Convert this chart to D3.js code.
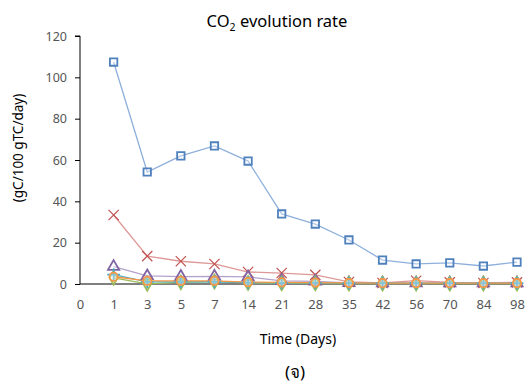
<!DOCTYPE html>
<html>
<head>
<meta charset="utf-8">
<script src="https://cdn.jsdelivr.net/npm/d3@7"></script>
<style>
  body { margin: 0; background: #fff; }
  svg text { font-family: "Noto Sans", "Open Sans", "DejaVu Sans", sans-serif; }
</style>
</head>
<body>
<svg id="chart" width="526" height="389"></svg>
<script>
const days = ["0", "1", "3", "5", "7", "14", "21", "28", "35", "42", "56", "70", "84", "98"];
const sampleDays = days.slice(1);
const yTicks = [0, 20, 40, 60, 80, 100, 120];

const blueSquare = [107.4, 54.2, 62, 66.8, 59.5, 33.9, 29, 21.3, 11.6, 9.7, 10.2, 8.7, 10.6];
const redCross = [33.4, 13.5, 11, 9.7, 5.8, 5.3, 4.4, 1, 0.5, 1.6, 0.8, 0.5, 0.8];
const purpleTriangle = [8.4, 3.9, 3.6, 3.7, 3.4, 1.5, 1.3, 0.5, 0.4, 0.4, 0.4, 0.4, 0.4];
const greenDiamond = [3, 0.1, 0.8, 1.2, 0.5, 0.3, 0.3, 0.2, 0.2, 0.2, 0.2, 0.2, 0.2];
const cyanStar = [4.5, 1, 1, 1, 0.7, 0.5, 0.5, 0.4, 0.4, 0.4, 0.4, 0.4, 0.4];
const orangeCircle = [3.5, 1.5, 1.5, 1.5, 0.9, 0.8, 0.7, 0.5, 0.4, 0.4, 0.4, 0.4, 0.4];

const series = [
  { values: blueSquare, stroke: "#4f81bd", line: "#8eb0dc", symbol: d3.symbolSquare },
  { values: redCross, stroke: "#c0504d", line: "#de9896", symbol: d3.symbolX },
  { values: purpleTriangle, stroke: "#8064a2", line: "#b4a2cc", symbol: d3.symbolTriangle },
  { values: greenDiamond, stroke: "#9bbb59", line: "#9bbb59", symbol: d3.symbolDiamond },
  { values: cyanStar, stroke: "#4bacc6", line: "#4bacc6", symbol: d3.symbolPlus },
  { values: orangeCircle, stroke: "#f79646", line: "#f79646", symbol: d3.symbolCircle }
];

const svg = d3.select("#chart");
const x = d3.scalePoint().domain(days).range([80, 517]);
const y = d3.scaleLinear().domain([0, 120]).range([284, 36]);

// title
const title = svg.append("text").attr("x", 277).attr("y", 27).attr("text-anchor", "middle")
  .attr("font-size", 16.5).attr("fill", "#000");
title.append("tspan").text("CO");
title.append("tspan").text("2").attr("font-size", 10.5).attr("dy", 4);
title.append("tspan").text(" evolution rate").attr("dy", -4);

// y axis
const yAxis = svg.append("g").attr("transform", "translate(80,0)")
  .call(d3.axisLeft(y).tickValues(yTicks).tickSize(5).tickPadding(8));
yAxis.select(".domain").attr("stroke", "#000").attr("d", "M-5,36H0V284");
yAxis.selectAll(".tick line").attr("stroke", "#000");
yAxis.selectAll(".tick text").attr("font-size", 12.5).attr("fill", "#555")
  .attr("font-family", "'Liberation Sans Narrow', 'Open Sans', sans-serif");

// x axis
const xAxis = svg.append("g").attr("transform", "translate(0,284)")
  .call(d3.axisBottom(x).tickSize(0).tickPadding(16));
xAxis.select(".domain").attr("stroke", "#000").attr("d", "M80,0H522");
xAxis.selectAll(".tick text").attr("font-size", 13).attr("fill", "#555")
  .attr("font-family", "'Liberation Sans Narrow', 'Open Sans', sans-serif");

svg.append("text").attr("x", 298).attr("y", 344).attr("text-anchor", "middle")
  .attr("font-size", 14).attr("fill", "#000").text("Time (Days)");
svg.append("text").attr("x", 295).attr("y", 378).attr("text-anchor", "middle")
  .attr("font-size", 17).attr("fill", "#000").text("(จ)");
svg.append("text").attr("transform", "translate(23,148) rotate(-90)").attr("text-anchor", "middle")
  .attr("font-size", 13.5).attr("fill", "#000").text("(gC/100 gTC/day)");

const line = d3.line().x((d, i) => x(sampleDays[i])).y(d => y(d));

series.forEach(s => {
  svg.append("path").datum(s.values).attr("d", line)
    .attr("fill", "none").attr("stroke", s.line).attr("stroke-width", 1.3);
});

series.forEach(s => {
  const sym = d3.symbol().type(s.symbol).size(s.symbol === d3.symbolX ? 70 : 55);
  svg.append("g").selectAll("path").data(s.values).join("path")
    .attr("transform", (d, i) => `translate(${x(sampleDays[i])},${y(d)})`)
    .attr("d", sym)
    .attr("fill", s.symbol === d3.symbolX || s.symbol === d3.symbolPlus ? s.stroke : "#fff")
    .attr("fill-opacity", s.symbol === d3.symbolX || s.symbol === d3.symbolPlus ? 1 : 0.3)
    .attr("stroke", s.stroke).attr("stroke-width", s.symbol === d3.symbolX ? 1.2 : 1.8);
});
</script>
</body>
</html>
